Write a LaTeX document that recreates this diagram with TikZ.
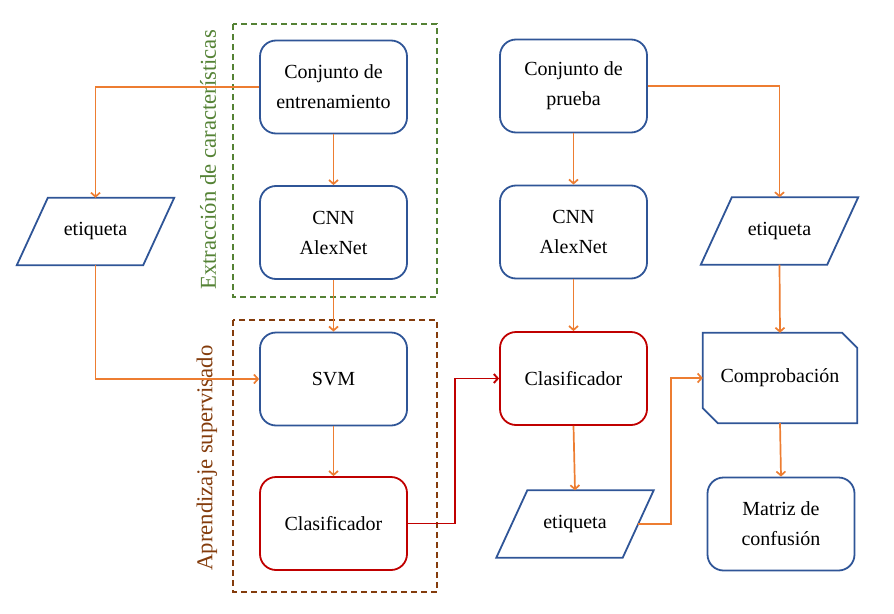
\documentclass[tikz,border=0pt]{standalone}
\usepackage{fontspec}
\setmainfont{Liberation Serif}
\usetikzlibrary{arrows.meta}
\definecolor{boxblue}{HTML}{2F5597}
\definecolor{boxred}{HTML}{C00000}
\definecolor{flowor}{HTML}{ED7D31}
\definecolor{grpgreen}{HTML}{548235}
\definecolor{grpbrown}{HTML}{843C0C}
\newcommand\nodefnt{\fontsize{20}{30}\selectfont}
\newcommand\grpfnt{\fontsize{22.7}{26}\selectfont}
\tikzset{
  box/.style={draw=boxblue, line width=1.8pt, rounded corners=16pt, minimum width=147pt, minimum height=93pt, align=center, inner sep=0pt, font=\nodefnt},
  redbox/.style={box, draw=boxred},
  slot/.style={minimum width=126pt, minimum height=67pt, inner sep=0pt, font=\nodefnt, align=center},
  compslot/.style={minimum width=154pt, minimum height=90pt, inner sep=0pt, font=\nodefnt, align=center},
  outline/.style={draw=boxblue, line width=1.8pt, line join=miter},
  flow/.style={draw=flowor, line width=1.7pt, -{Straight Barb[length=4pt,width=9pt]}},
  redflow/.style={flow, draw=boxred, line width=1.9pt},
  group/.style={line width=1.8pt, dash pattern=on 6pt off 4pt},
  grplabel/.style={rotate=90, font=\grpfnt, inner sep=0pt}
}
\begin{document}
\begin{tikzpicture}[x=1pt,y=-1pt]
\useasboundingbox (0,0) rectangle (894,613);
% groups
\draw[group, draw=grpgreen] (233,24) rectangle (437,297);
\draw[group, draw=grpbrown] (233,320) rectangle (437,592);
\node[grplabel, text=grpgreen] (lblfeat) at (208,160) {Extracción de características};
\node[grplabel, text=grpbrown] (lblsup) at (207,458) {Aprendizaje supervisado};
% left column
\node[box] (train) at (333.5,87) {Conjunto de\\entrenamiento};
\node[box] (cnnL) at (333.5,232.5) {CNN\\AlexNet};
\node[box] (svm) at (333.5,379) {SVM};
\node[redbox] (clasL) at (333.5,523.5) {Clasificador};
% middle column
\node[box] (test) at (573.5,86) {Conjunto de\\prueba};
\node[box] (cnnM) at (573.5,232) {CNN\\AlexNet};
\node[redbox] (clasM) at (573.5,378.5) {Clasificador};
\node[slot] (etiqM) at (575,524) {etiqueta};
% left label
\node[slot] (etiqL) at (95.5,231.5) {etiqueta};
% right column
\node[slot] (etiqR) at (779.5,231) {etiqueta};
\node[compslot] (comp) at (780,378) {Comprobación};
\node[box] (conf) at (781,524) {Matriz de\\confusión};
% parallelograms
\foreach \n in {etiqL,etiqM,etiqR}{
  \draw[outline] ([xshift=15.5pt]\n.north west) -- ([xshift=15.5pt]\n.north east)
     -- ([xshift=-15.5pt]\n.south east) -- ([xshift=-15.5pt]\n.south west) -- cycle;
}
% chamfered box
\draw[outline] (comp.north west) -- ([xshift=-15pt]comp.north east) -- ([yshift=-15pt]comp.north east)
   -- (comp.south east) -- ([xshift=15pt]comp.south west) -- ([yshift=15pt]comp.south west) -- cycle;
% connectors
\draw[flow] (train.west) -| (etiqL.north);
\draw[flow] (train.south) -- (cnnL.north);
\draw[flow] (cnnL.south) -- (svm.north);
\draw[flow] (etiqL.south) |- (svm.west);
\draw[flow] (svm.south) -- (clasL.north);
\coordinate (rbend) at (455,523.5);
\draw[redflow] (clasL.east) -- (rbend) |- (clasM.west);
\draw[flow] (test.south) -- (cnnM.north);
\draw[flow] (cnnM.south) -- (clasM.north);
\draw[flow] (clasM.south) -- (etiqM.north);
\draw[flow] (test.east) -| (etiqR.north);
\draw[flow] (etiqR.south) -- (comp.north);
\coordinate (obend) at (671,524);
\draw[flow] (etiqM.east) -- (obend) |- (comp.west);
\draw[flow] (comp.south) -- (conf.north);
\end{tikzpicture}
\end{document}
